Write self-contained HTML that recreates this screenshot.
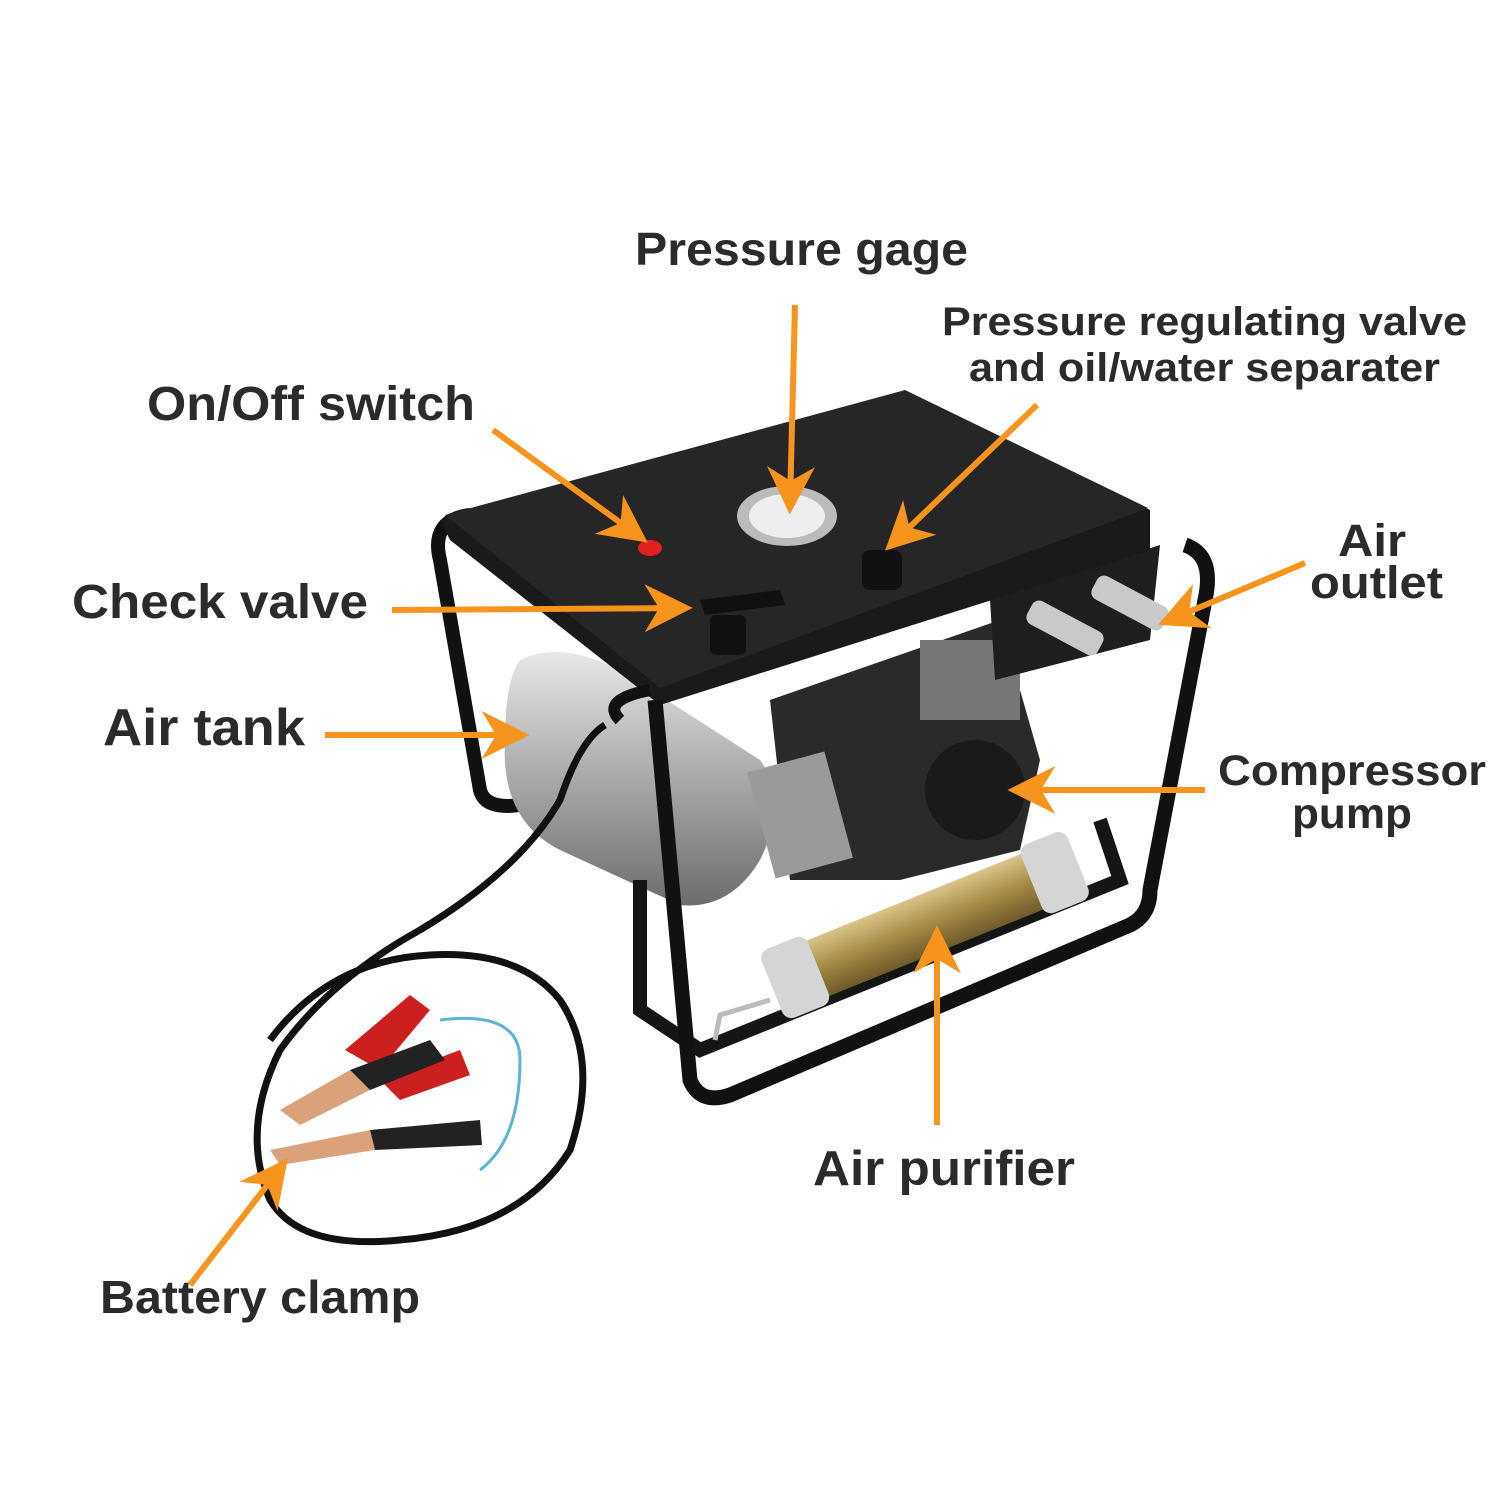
<!DOCTYPE html>
<html><head><meta charset="utf-8"><style>
html,body{margin:0;padding:0;background:#fff;}
svg{display:block}
text{font-family:"Liberation Sans",Arial,sans-serif;font-weight:bold;fill:#2b2b2b}
</style></head><body>
<svg width="1500" height="1500" viewBox="0 0 1500 1500" xmlns="http://www.w3.org/2000/svg">
<defs>
<marker id="ah" viewBox="0 0 10 10" refX="8" refY="5" markerWidth="8" markerHeight="8" orient="auto-start-reverse">
<path d="M0,0 L10,5 L0,10 L3,5 z" fill="#f7941d"/></marker>
<linearGradient id="tank" x1="0" y1="0" x2="0" y2="1">
<stop offset="0" stop-color="#e8e8e8"/><stop offset="0.4" stop-color="#b5b5b5"/><stop offset="1" stop-color="#6d6d6d"/></linearGradient>
<linearGradient id="brass" x1="0" y1="0" x2="0" y2="1">
<stop offset="0" stop-color="#d9c48a"/><stop offset="0.5" stop-color="#a68a45"/><stop offset="1" stop-color="#6e5a2a"/></linearGradient>
</defs>
<rect width="1500" height="1500" fill="#fff"/>
<path d="M470,515 Q430,520 440,560 L480,790 Q485,810 520,805" fill="none" stroke="#111" stroke-width="14"/>
<path d="M520,660 Q560,640 620,670 L760,760 Q790,800 760,860 Q730,910 680,905 L560,850 Q500,820 505,740 Q505,680 520,660 Z" fill="url(#tank)"/>
<path d="M770,700 L1000,620 L1040,760 L1020,850 L900,880 L790,880 Z" fill="#2a2a2a"/>
<rect x="920" y="640" width="100" height="80" fill="#777"/>
<circle cx="975" cy="790" r="50" fill="#1a1a1a"/>
<rect x="760" y="760" width="80" height="110" fill="#9a9a9a" transform="rotate(-15 800 815)"/>
<path d="M990,600 L1160,545 L1150,640 L995,680 Z" fill="#1e1e1e"/>
<rect x="1025" y="615" width="80" height="26" rx="8" fill="#c9c9c9" transform="rotate(28 1065 628)"/>
<rect x="1090" y="590" width="80" height="26" rx="8" fill="#c9c9c9" transform="rotate(28 1130 603)"/>
<path d="M640,880 L640,1010 L700,1050 L1120,880 L1100,820" fill="none" stroke="#151515" stroke-width="14"/>
<g transform="rotate(-22 925 925)">
<rect x="790" y="895" width="270" height="60" fill="url(#brass)"/>
<rect x="760" y="888" width="50" height="74" rx="10" fill="#d5d5d5"/>
<rect x="1040" y="888" width="50" height="74" rx="10" fill="#d5d5d5"/>
</g>
<path d="M770,1000 L720,1015 L715,1040" fill="none" stroke="#bbb" stroke-width="5"/>
<path d="M440,520 L905,392 L1150,510 L1150,550 L660,705 L450,540 Z" fill="#1a1a1a"/>
<path d="M445,515 L905,390 L1148,508 L660,688 Z" fill="#262626"/>
<ellipse cx="787" cy="516" rx="50" ry="30" fill="#bbb"/>
<ellipse cx="787" cy="516" rx="38" ry="22" fill="#eee"/>
<ellipse cx="650" cy="548" rx="12" ry="8" fill="#e52020"/>
<rect x="862" y="550" width="40" height="40" rx="8" fill="#111"/>
<path d="M700,600 L780,590 L785,605 L705,615 Z" fill="#111"/>
<rect x="710" y="615" width="36" height="40" rx="6" fill="#111"/>
<path d="M655,700 L690,1080 Q700,1105 730,1095 L1130,925 Q1150,915 1150,890 L1205,600 Q1215,555 1185,545" fill="none" stroke="#111" stroke-width="15"/>
<path d="M620,720 Q600,700 650,690" fill="none" stroke="#111" stroke-width="12"/>
<path d="M605,725 Q580,740 560,800 Q520,870 420,930 Q330,980 280,1050 Q240,1130 270,1200 Q300,1250 400,1240 Q520,1230 570,1150 Q600,1060 560,1000 Q520,950 430,955 Q330,960 270,1040" fill="none" stroke="#111" stroke-width="7"/>
<path d="M440,1020 Q520,1010 520,1060 Q520,1140 480,1170" fill="none" stroke="#5ab4d8" stroke-width="3"/>
<path d="M345,1050 L410,995 L430,1010 L380,1070 Z" fill="#cc2020"/>
<path d="M380,1080 L460,1050 L470,1075 L400,1100 Z" fill="#cc2020"/>
<path d="M280,1110 L350,1070 L370,1090 L300,1125 Z" fill="#d9a27a"/>
<path d="M270,1150 L370,1130 L375,1150 L280,1165 Z" fill="#d9a27a"/>
<path d="M370,1130 L480,1120 L482,1145 L375,1150 Z" fill="#222"/>
<path d="M350,1070 L430,1040 L445,1060 L370,1090 Z" fill="#222"/>
<g stroke="#f7941d" stroke-width="6" fill="none" marker-end="url(#ah)">
<line x1="795" y1="305" x2="790" y2="505"/>
<line x1="1037" y1="405" x2="892" y2="544"/>
<line x1="493" y1="430" x2="640" y2="537"/>
<line x1="392" y1="610" x2="683" y2="608"/>
<line x1="325" y1="735" x2="520" y2="735"/>
<line x1="1305" y1="563" x2="1167" y2="621"/>
<line x1="1205" y1="790" x2="1017" y2="790"/>
<line x1="937" y1="1125" x2="937" y2="935"/>
<line x1="190" y1="1285" x2="282" y2="1166"/>
</g>
<text x="635" y="265" font-size="46" textLength="333" lengthAdjust="spacingAndGlyphs">Pressure gage</text>
<text x="942" y="335" font-size="40" textLength="525" lengthAdjust="spacingAndGlyphs">Pressure regulating valve</text>
<text x="969" y="381" font-size="40" textLength="471" lengthAdjust="spacingAndGlyphs">and oil/water separater</text>
<text x="147" y="420" font-size="48" textLength="328" lengthAdjust="spacingAndGlyphs">On/Off switch</text>
<text x="72" y="618" font-size="48" textLength="296" lengthAdjust="spacingAndGlyphs">Check valve</text>
<text x="103" y="745" font-size="52" textLength="202" lengthAdjust="spacingAndGlyphs">Air tank</text>
<text x="1338" y="556" font-size="45" textLength="68" lengthAdjust="spacingAndGlyphs">Air</text>
<text x="1310" y="598" font-size="45" textLength="133" lengthAdjust="spacingAndGlyphs">outlet</text>
<text x="1218" y="785" font-size="43" textLength="268" lengthAdjust="spacingAndGlyphs">Compressor</text>
<text x="1292" y="828" font-size="43" textLength="120" lengthAdjust="spacingAndGlyphs">pump</text>
<text x="813" y="1185" font-size="49" textLength="262" lengthAdjust="spacingAndGlyphs">Air purifier</text>
<text x="100" y="1313" font-size="46" textLength="320" lengthAdjust="spacingAndGlyphs">Battery clamp</text>
</svg>
</body></html>
